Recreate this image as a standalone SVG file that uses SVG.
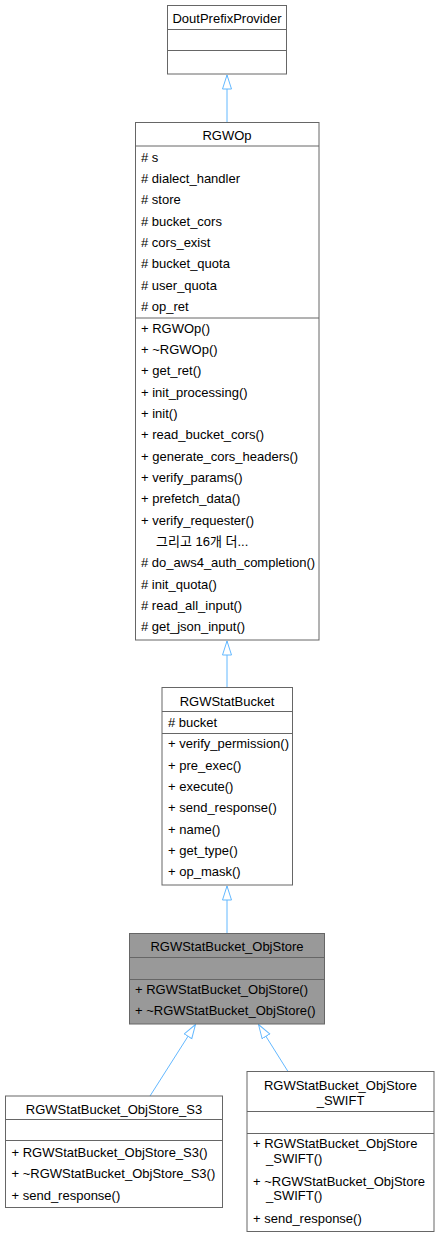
<svg xmlns="http://www.w3.org/2000/svg" width="439" height="1237" viewBox="0 0 439 1237">
<defs>
<style>
.box{fill:#ffffff;stroke:#666666;stroke-width:1}
.gray{fill:#999999;stroke:#666666;stroke-width:1}
.sep{stroke:#666666;stroke-width:1}
text{font-family:"Liberation Sans","Noto Sans CJK KR",sans-serif;font-size:13px;fill:#000000}
.t{text-anchor:middle}
.edge{stroke:#63B8FF;stroke-width:1;fill:none;marker-end:url(#tri)}
</style>
<marker id="tri" markerUnits="userSpaceOnUse" markerWidth="16" markerHeight="12" refX="14.5" refY="5" orient="auto">
<path d="M0.5,0.5 L14.5,5 L0.5,9.5 Z" fill="#ffffff" stroke="#63B8FF" stroke-width="1"/>
</marker>
</defs>
<rect width="439" height="1237" fill="#ffffff"/>

<g id="edges">
<path class="edge" d="M227,122 L227,75"/>
<path class="edge" d="M227,687.5 L227,641"/>
<path class="edge" d="M227,933.5 L227,886"/>
<path class="edge" d="M150,1096 L195.5,1024.5"/>
<path class="edge" d="M288,1071.5 L258.5,1024.5"/>
</g>

<g id="DoutPrefixProvider">
<rect class="box" x="167.5" y="5.5" width="119" height="68.5"/>
<line class="sep" x1="167.5" y1="29.5" x2="286.5" y2="29.5"/>
<line class="sep" x1="167.5" y1="50.5" x2="286.5" y2="50.5"/>
<text class="t" x="227" y="22.5">DoutPrefixProvider</text>
</g>

<g id="RGWOp">
<rect class="box" x="135.5" y="122.5" width="183.5" height="517.5"/>
<line class="sep" x1="135.5" y1="146" x2="319" y2="146"/>
<line class="sep" x1="135.5" y1="318" x2="319" y2="318"/>
<text class="t" x="227" y="139.5">RGWOp</text>
<text x="141" y="161.7"># s</text>
<text x="141" y="183"># dialect_handler</text>
<text x="141" y="204.3"># store</text>
<text x="141" y="225.7"># bucket_cors</text>
<text x="141" y="247"># cors_exist</text>
<text x="141" y="268.3"># bucket_quota</text>
<text x="141" y="289.7"># user_quota</text>
<text x="141" y="311"># op_ret</text>
<text x="141" y="332.7">+ RGWOp()</text>
<text x="141" y="354">+ ~RGWOp()</text>
<text x="141" y="375.3">+ get_ret()</text>
<text x="141" y="396.7">+ init_processing()</text>
<text x="141" y="418">+ init()</text>
<text x="141" y="439.3">+ read_bucket_cors()</text>
<text x="141" y="460.7">+ generate_cors_headers()</text>
<text x="141" y="482">+ verify_params()</text>
<text x="141" y="503.3">+ prefetch_data()</text>
<text x="141" y="524.7">+ verify_requester()</text>
<text x="156" y="546">그리고 16개 더...</text>
<text x="141" y="567.3"># do_aws4_auth_completion()</text>
<text x="141" y="588.7"># init_quota()</text>
<text x="141" y="610"># read_all_input()</text>
<text x="141" y="631.3"># get_json_input()</text>
</g>

<g id="RGWStatBucket">
<rect class="box" x="162" y="687.5" width="130.5" height="197.5"/>
<line class="sep" x1="162" y1="711.5" x2="292.5" y2="711.5"/>
<line class="sep" x1="162" y1="733.5" x2="292.5" y2="733.5"/>
<text class="t" x="227" y="705.5">RGWStatBucket</text>
<text x="168" y="726.5"># bucket</text>
<text x="168" y="748.3">+ verify_permission()</text>
<text x="168" y="769.7">+ pre_exec()</text>
<text x="168" y="791">+ execute()</text>
<text x="168" y="812.3">+ send_response()</text>
<text x="168" y="833.7">+ name()</text>
<text x="168" y="855">+ get_type()</text>
<text x="168" y="876.3">+ op_mask()</text>
</g>

<g id="RGWStatBucket_ObjStore">
<rect class="gray" x="129.5" y="933.5" width="195" height="90.5"/>
<line class="sep" x1="129.5" y1="957.5" x2="324.5" y2="957.5"/>
<line class="sep" x1="129.5" y1="979.5" x2="324.5" y2="979.5"/>
<text class="t" x="227" y="951">RGWStatBucket_ObjStore</text>
<text x="135" y="994">+ RGWStatBucket_ObjStore()</text>
<text x="135" y="1015">+ ~RGWStatBucket_ObjStore()</text>
</g>

<g id="RGWStatBucket_ObjStore_S3">
<rect class="box" x="5.5" y="1096" width="217" height="111.5"/>
<line class="sep" x1="5.5" y1="1119.5" x2="222.5" y2="1119.5"/>
<line class="sep" x1="5.5" y1="1140.5" x2="222.5" y2="1140.5"/>
<text class="t" x="114" y="1114">RGWStatBucket_ObjStore_S3</text>
<text x="11.5" y="1157">+ RGWStatBucket_ObjStore_S3()</text>
<text x="11.5" y="1178.3">+ ~RGWStatBucket_ObjStore_S3()</text>
<text x="11.5" y="1199.5">+ send_response()</text>
</g>

<g id="RGWStatBucket_ObjStore_SWIFT">
<rect class="box" x="247" y="1071.5" width="187" height="160"/>
<line class="sep" x1="247" y1="1111.5" x2="434" y2="1111.5"/>
<line class="sep" x1="247" y1="1133.5" x2="434" y2="1133.5"/>
<text class="t" x="340.5" y="1090">RGWStatBucket_ObjStore</text>
<text class="t" x="340.5" y="1105">_SWIFT</text>
<text x="253" y="1148.3">+ RGWStatBucket_ObjStore</text>
<text x="266" y="1163.3">_SWIFT()</text>
<text x="253" y="1185.7">+ ~RGWStatBucket_ObjStore</text>
<text x="266" y="1200">_SWIFT()</text>
<text x="253" y="1222.7">+ send_response()</text>
</g>
</svg>
